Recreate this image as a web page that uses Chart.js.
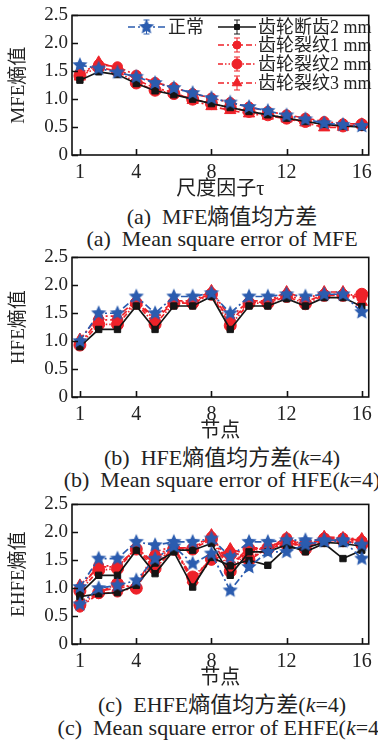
<!DOCTYPE html>
<html><head><meta charset="utf-8">
<script src="https://cdn.jsdelivr.net/npm/chart.js@4/dist/chart.umd.min.js"></script>
<style>
html,body{margin:0;padding:0;background:#fff;width:378px;height:744px;overflow:hidden;position:relative;}
.box{position:absolute;left:0;width:378px;height:200px;}
.cap{position:absolute;left:222px;transform:translateX(-50%);font-family:"Liberation Serif","Noto Sans CJK SC",serif;font-size:22px;color:#222;white-space:nowrap;line-height:1;}
</style></head><body>
<div class="box" style="top:0px"><canvas id="cA"></canvas></div>
<div class="cap" style="top:206px">(a)&nbsp; MFE熵值均方差</div>
<div class="cap" style="top:228px">(a)&nbsp; Mean square error of MFE</div>
<div class="box" style="top:242px"><canvas id="cB"></canvas></div>
<div class="cap" style="top:447px">(b)&nbsp; HFE熵值均方差(<i>k</i>=4)</div>
<div class="cap" style="top:469px">(b)&nbsp; Mean square error of HFE(<i>k</i>=4)</div>
<div class="box" style="top:489px"><canvas id="cC"></canvas></div>
<div class="cap" style="top:694px">(c)&nbsp; EHFE熵值均方差(<i>k</i>=4)</div>
<div class="cap" style="top:717px">(c)&nbsp; Mean square error of EHFE(<i>k</i>=4)</div>
<script>
// ---- data ----
const nodes = [1,2,3,4,5,6,7,8,9,10,11,12,13,14,15,16];
const xTicks = [1,4,8,12,16];
const yTicks = [0,0.5,1.0,1.5,2.0,2.5];
const seriesNames = ['正常','齿轮断齿2 mm','齿轮裂纹1 mm','齿轮裂纹2 mm','齿轮裂纹3 mm'];

const mfeNormal = [1.61,1.55,1.48,1.40,1.29,1.20,1.11,1.02,0.94,0.86,0.79,0.71,0.64,0.57,0.54,0.52];
const mfeBroken = [1.34,1.49,1.44,1.28,1.15,1.08,1.00,0.92,0.85,0.78,0.72,0.66,0.60,0.55,0.52,0.50];
const mfeCrack1 = [1.47,1.62,1.58,1.43,1.30,1.21,1.10,1.02,0.94,0.86,0.78,0.72,0.66,0.60,0.56,0.56];
const mfeCrack2 = [1.42,1.57,1.50,1.29,1.16,1.10,1.00,0.92,0.85,0.78,0.72,0.66,0.60,0.55,0.52,0.54];
const mfeCrack3 = [1.40,1.66,1.55,1.35,1.20,1.12,0.98,0.87,0.80,0.74,0.70,0.65,0.58,0.49,0.50,0.55];

const hfeNormal = [1.00,1.50,1.50,1.80,1.50,1.80,1.80,1.86,1.50,1.80,1.80,1.84,1.80,1.84,1.84,1.52];
const hfeBroken = [0.90,1.21,1.21,1.63,1.21,1.63,1.63,1.80,1.21,1.63,1.63,1.76,1.63,1.78,1.78,1.62];
const hfeCrack1 = [0.95,1.38,1.38,1.70,1.38,1.70,1.70,1.86,1.35,1.70,1.70,1.84,1.70,1.84,1.84,1.78];
const hfeCrack2 = [0.93,1.30,1.30,1.68,1.30,1.68,1.68,1.84,1.28,1.68,1.68,1.80,1.67,1.82,1.82,1.84];
const hfeCrack3 = [1.03,1.45,1.45,1.72,1.42,1.72,1.72,1.90,1.42,1.72,1.72,1.88,1.75,1.88,1.88,1.70];

const ehfeNormalA = [1.02,1.53,1.53,1.83,1.77,1.83,1.83,1.89,1.56,1.83,1.83,1.86,1.86,1.86,1.86,1.53];
const ehfeNormalB = [0.71,1.00,1.05,1.14,1.53,1.75,1.44,1.62,0.96,1.38,1.65,1.65,1.78,1.84,1.84,1.78];
const ehfeBrokenA = [0.90,1.23,1.23,1.68,1.26,1.68,1.68,1.80,1.23,1.65,1.65,1.78,1.65,1.80,1.53,1.68];
const ehfeBrokenB = [0.85,0.90,0.92,1.05,1.45,1.65,1.02,1.55,1.40,1.50,1.41,1.72,1.72,1.82,1.80,1.75];
const ehfeCrack1A = [1.00,1.40,1.40,1.71,1.42,1.71,1.71,1.92,1.38,1.71,1.71,1.90,1.71,1.90,1.90,1.85];
const ehfeCrack1B = [0.66,0.90,0.93,1.02,1.60,1.72,1.11,1.50,1.65,1.55,1.70,1.80,1.80,1.85,1.88,1.85];
const ehfeCrack2A = [0.95,1.32,1.35,1.70,1.35,1.70,1.70,1.88,1.30,1.70,1.70,1.85,1.70,1.85,1.85,1.78];
const ehfeCrack2B = [0.70,0.92,1.08,1.00,1.55,1.70,1.20,1.52,1.60,1.50,1.72,1.78,1.78,1.88,1.85,1.80];
const ehfeCrack3A = [1.05,1.38,1.38,1.72,1.45,1.72,1.72,1.95,1.42,1.72,1.72,1.90,1.75,1.92,1.90,1.88];
const ehfeCrack3B = [0.75,0.95,1.00,1.05,1.65,1.75,1.15,1.55,1.70,1.60,1.75,1.82,1.82,1.90,1.88,1.82];

// ---- styles ----
const SERIF = '"Liberation Serif","Noto Sans CJK SC",serif';
const BLUE = '#2b5caf', RED = '#ee2229', BLACK = '#151515', TXT = '#222';

function makeStar(color, r){
  const c = document.createElement('canvas');
  const s = Math.ceil(r*2)+2; c.width = s; c.height = s;
  const g = c.getContext('2d'); g.fillStyle = color; g.beginPath();
  for(let i=0;i<10;i++){
    const rr = i%2===0 ? r : r*0.47;
    const a = -Math.PI/2 + i*Math.PI/5;
    const px = s/2 + rr*Math.cos(a), py = s/2 + rr*Math.sin(a);
    if(i===0) g.moveTo(px,py); else g.lineTo(px,py);
  }
  g.closePath(); g.fill();
  return c;
}
const starImg = makeStar(BLUE, 8);

const styles = [
  {borderColor:BLUE, backgroundColor:BLUE, borderDash:[7,3,2,3], pointStyle:starImg, pointRadius:8},
  {borderColor:BLACK, backgroundColor:BLACK, borderDash:[], pointStyle:'rect', pointRadius:4.5},
  {borderColor:RED, backgroundColor:RED, borderDash:[6,3,2,3], pointStyle:'circle', pointRadius:5},
  {borderColor:RED, backgroundColor:RED, borderDash:[5,2,1.5,2,1.5,2], pointStyle:'circle', pointRadius:6},
  {borderColor:RED, backgroundColor:RED, borderDash:[6,3,2,3], pointStyle:'triangle', pointRadius:6.5}
];

function ds(values, si, label){
  const st = styles[si];
  return Object.assign({
    label: label,
    data: nodes.map((n,i)=>({x:n, y:values[i]})),
    borderWidth:1.7, pointBorderWidth:1, pointBorderColor:st.borderColor,
    pointBackgroundColor:st.backgroundColor, tension:0, fill:false
  }, st);
}

const framePlugin = {
  id:'frame',
  afterDraw(chart){
    const {ctx, chartArea:a, scales:{x,y}} = chart;
    ctx.save(); ctx.strokeStyle = '#111'; ctx.lineWidth = 1.6; ctx.setLineDash([]);
    ctx.strokeRect(a.left, a.top, a.right-a.left, a.bottom-a.top);
    ctx.beginPath();
    xTicks.forEach(v=>{const px = Math.round(x.getPixelForValue(v))+0.5; ctx.moveTo(px,a.bottom); ctx.lineTo(px,a.bottom-6);});
    yTicks.forEach(v=>{const py = Math.round(y.getPixelForValue(v))+0.5; ctx.moveTo(a.left,py); ctx.lineTo(a.left+6,py);});
    ctx.stroke(); ctx.restore();
  }
};

const legendPlugin = {
  id:'customLegend',
  afterDraw(chart){
    const ctx = chart.ctx;
    const items = [
      {i:0, x1:128, x2:165, y:27, tx:168},
      {i:1, x1:218, x2:256, y:27, tx:258},
      {i:2, x1:218, x2:256, y:45, tx:258},
      {i:3, x1:218, x2:256, y:64, tx:258},
      {i:4, x1:218, x2:256, y:83, tx:258}
    ];
    ctx.save();
    items.forEach(it=>{
      const d = chart.data.datasets[it.i];
      ctx.strokeStyle = d.borderColor; ctx.fillStyle = d.backgroundColor;
      ctx.lineWidth = 1.5; ctx.setLineDash(d.borderDash);
      ctx.beginPath(); ctx.moveTo(it.x1, it.y); ctx.lineTo(it.x2, it.y); ctx.stroke();
      ctx.setLineDash([]);
      const cx = (it.x1+it.x2)/2;
      ctx.lineWidth = 1;
      ctx.beginPath(); ctx.moveTo(cx, it.y-7); ctx.lineTo(cx, it.y+7);
      ctx.moveTo(cx-3, it.y-7); ctx.lineTo(cx+3, it.y-7);
      ctx.moveTo(cx-3, it.y+7); ctx.lineTo(cx+3, it.y+7); ctx.stroke();
      Chart.helpers.drawPoint(ctx, {pointStyle:d.pointStyle, radius:d.pointRadius-1, rotation:0, borderWidth:1}, cx, it.y);
      ctx.fillStyle = TXT; ctx.font = '18px ' + SERIF; ctx.textBaseline = 'middle'; ctx.textAlign = 'left';
      ctx.fillText(d.label, it.tx, it.y+1);
    });
    ctx.restore();
  }
};

function makeOptions(yTitle, xTitle){
  return {
    responsive:true, maintainAspectRatio:false, animation:false, devicePixelRatio:1,
    layout:{padding:{top:15, right:6, left:0, bottom:0}},
    plugins:{legend:{display:false}, tooltip:{enabled:false}},
    scales:{
      x:{type:'linear', min:0.58, max:16.37,
        afterBuildTicks:s=>{s.ticks = xTicks.map(v=>({value:v}));},
        afterFit:s=>{s.height = 45;},
        grid:{display:false, drawTicks:false}, border:{display:false},
        ticks:{font:{family:SERIF, size:20}, color:TXT, padding:6, maxRotation:0, autoSkip:false},
        title:{display:true, text:xTitle, color:TXT, font:{family:SERIF, size:20, lineHeight:1}, padding:{top:0, bottom:0}}
      },
      y:{min:0, max:2.5,
        afterBuildTicks:s=>{s.ticks = yTicks.map(v=>({value:v}));},
        afterFit:s=>{s.width = 72;},
        grid:{display:false, drawTicks:false}, border:{display:false},
        ticks:{font:{family:SERIF, size:19}, color:TXT, padding:4, callback:v=> v===0 ? '0' : v.toFixed(1)},
        title:{display:true, text:yTitle, color:TXT, font:{family:SERIF, size:19, lineHeight:1}, padding:{top:10, bottom:0}}
      }
    }
  };
}

new Chart(document.getElementById('cA'), {
  type:'line',
  data:{datasets:[ds(mfeNormal,0,seriesNames[0]), ds(mfeBroken,1,seriesNames[1]), ds(mfeCrack1,2,seriesNames[2]), ds(mfeCrack2,3,seriesNames[3]), ds(mfeCrack3,4,seriesNames[4])]},
  options:makeOptions('MFE熵值','尺度因子τ'),
  plugins:[framePlugin, legendPlugin]
});

new Chart(document.getElementById('cB'), {
  type:'line',
  data:{datasets:[ds(hfeNormal,0,seriesNames[0]), ds(hfeBroken,1,seriesNames[1]), ds(hfeCrack1,2,seriesNames[2]), ds(hfeCrack2,3,seriesNames[3]), ds(hfeCrack3,4,seriesNames[4])]},
  options:makeOptions('HFE熵值','节点'),
  plugins:[framePlugin]
});

new Chart(document.getElementById('cC'), {
  type:'line',
  data:{datasets:[
    ds(ehfeNormalA,0,seriesNames[0]), ds(ehfeNormalB,0,seriesNames[0]),
    ds(ehfeBrokenA,1,seriesNames[1]), ds(ehfeBrokenB,1,seriesNames[1]),
    ds(ehfeCrack1A,2,seriesNames[2]), ds(ehfeCrack1B,2,seriesNames[2]),
    ds(ehfeCrack2A,3,seriesNames[3]), ds(ehfeCrack2B,3,seriesNames[3]),
    ds(ehfeCrack3A,4,seriesNames[4]), ds(ehfeCrack3B,4,seriesNames[4])
  ]},
  options:makeOptions('EHFE熵值','节点'),
  plugins:[framePlugin]
});
</script>
</body></html>
